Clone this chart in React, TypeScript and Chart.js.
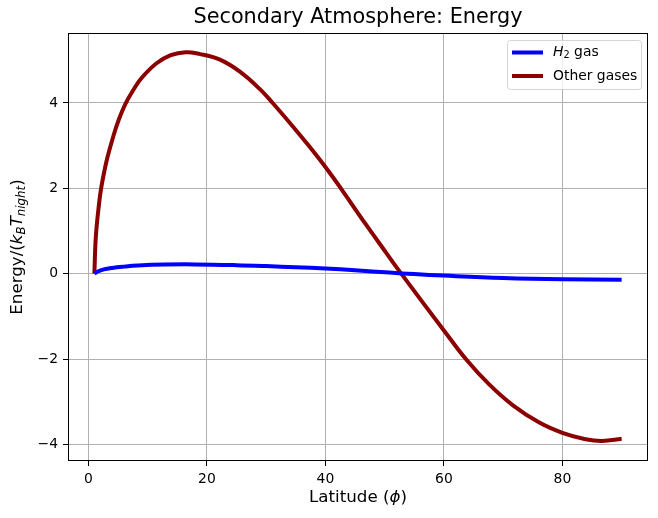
import React, { useEffect, useRef } from 'react';
import { Chart, registerables } from 'chart.js';

Chart.register(...registerables);

// values
const otherLatitude = [1, 1.25, 1.8, 2.14, 2.7, 3.2, 4.2, 5.1, 6.2, 7.6, 9, 11.5, 13.9, 16.4, 18.7, 22.1, 25.5, 28.9, 31.1, 34.5, 37.3, 40, 42.6, 46.8, 50.2, 52.8, 60, 63.7, 67.6, 71.6, 76.1, 80, 83.9, 86.7, 90];
const otherEnergy = [0, 0.87, 1.65, 2.0, 2.41, 2.72, 3.22, 3.6, 3.97, 4.31, 4.59, 4.93, 5.12, 5.19, 5.15, 5.02, 4.74, 4.33, 4.0, 3.45, 2.98, 2.5, 2.0, 1.16, 0.5, 0, -1.33, -2.0, -2.59, -3.08, -3.49, -3.73, -3.88, -3.92, -3.87];

const h2Latitude = [1, 1.5, 2.6, 4, 6, 8.3, 12.8, 18, 25, 30, 35, 40, 45, 50.8, 55, 60, 70, 80, 90];
const h2Energy = [0, 0.045, 0.1, 0.135, 0.165, 0.19, 0.213, 0.217, 0.2, 0.178, 0.15, 0.12, 0.08, 0.025, -0.01, -0.045, -0.1, -0.13, -0.14];

const latitudeTicks = [0, 20, 40, 60, 80];
const energyTicks = [-4, -2, 0, 2, 4];

const FONT = '"DejaVu Sans", sans-serif';

type Seg = { text: string; size: number; italic?: boolean; dy?: number };

const titleSegs: Seg[] = [{ text: 'Secondary Atmosphere: Energy', size: 20.8 }];
const xLabelSegs: Seg[] = [
  { text: 'Latitude (', size: 16.7 },
  { text: 'ϕ', size: 16.7, italic: true },
  { text: ')', size: 16.7 },
];
const yLabelSegs: Seg[] = [
  { text: 'Energy/(', size: 16.7 },
  { text: 'k', size: 16.7, italic: true },
  { text: 'B', size: 11.8, italic: true, dy: 3.6 },
  { text: 'T', size: 16.7, italic: true },
  { text: 'night', size: 11.8, italic: true, dy: 3.6 },
  { text: ')', size: 16.7 },
];
const legendSegs: Seg[][] = [
  [
    { text: 'H', size: 13.9, italic: true },
    { text: '2', size: 9.8, dy: 3 },
    { text: ' gas', size: 13.9 },
  ],
  [{ text: 'Other gases', size: 13.9 }],
];

function segFont(s: Seg) {
  return `${s.italic ? 'italic ' : ''}${s.size}px ${FONT}`;
}

function drawSegs(ctx: CanvasRenderingContext2D, segs: Seg[], x: number, y: number, center: boolean) {
  let width = 0;
  segs.forEach((s) => {
    ctx.font = segFont(s);
    width += ctx.measureText(s.text).width;
  });
  let cx = center ? x - width / 2 : x;
  ctx.textAlign = 'left';
  ctx.textBaseline = 'middle';
  ctx.fillStyle = '#000';
  segs.forEach((s) => {
    ctx.font = segFont(s);
    ctx.fillText(s.text, cx, y + (s.dy || 0));
    cx += ctx.measureText(s.text).width;
  });
}

const decorations = {
  id: 'decorations',
  afterDraw(chart: Chart) {
    const { ctx, chartArea } = chart;
    const midX = (chartArea.left + chartArea.right) / 2;
    const midY = (chartArea.top + chartArea.bottom) / 2;
    ctx.save();

    // frame (all four spines)
    ctx.strokeStyle = '#000';
    ctx.lineWidth = 1;
    ctx.strokeRect(
      Math.round(chartArea.left) + 0.5,
      Math.round(chartArea.top) + 0.5,
      Math.round(chartArea.right - chartArea.left) - 1,
      Math.round(chartArea.bottom - chartArea.top) - 1
    );

    drawSegs(ctx, titleSegs, midX, 18, true);
    drawSegs(ctx, xLabelSegs, midX, 498, true);

    ctx.save();
    ctx.translate(18, midY);
    ctx.rotate(-Math.PI / 2);
    drawSegs(ctx, yLabelSegs, 0, 0, true);
    ctx.restore();

    // legend
    const bx = 507.5, by = 40.5, bw = 134, bh = 49;
    ctx.beginPath();
    ctx.roundRect(bx, by, bw, bh, 3);
    ctx.fillStyle = 'rgba(255,255,255,0.8)';
    ctx.fill();
    ctx.strokeStyle = 'rgba(204,204,204,0.8)';
    ctx.stroke();
    chart.data.datasets.forEach((ds, i) => {
      const ly = 52.5 + i * 23.5;
      ctx.beginPath();
      ctx.moveTo(512, ly);
      ctx.lineTo(543, ly);
      ctx.strokeStyle = ds.borderColor as string;
      ctx.lineWidth = 4;
      ctx.stroke();
      drawSegs(ctx, legendSegs[i], 553, ly, false);
    });

    ctx.restore();
  },
};

function toPoints(xs: number[], ys: number[]) {
  return xs.map((x, i) => ({ x, y: ys[i] }));
}

export default function App() {
  const canvasRef = useRef<HTMLCanvasElement>(null);
  const chartRef = useRef<Chart | null>(null);

  useEffect(() => {
    document.body.style.margin = '0';
    if (!canvasRef.current) return;
    if (chartRef.current) chartRef.current.destroy();

    chartRef.current = new Chart(canvasRef.current, {
      type: 'line',
      data: {
        datasets: [
          {
            label: 'H2 gas',
            data: toPoints(h2Latitude, h2Energy),
            borderColor: '#0000ff',
            borderWidth: 4,
            pointRadius: 0,
            tension: 0.4,
          },
          {
            label: 'Other gases',
            data: toPoints(otherLatitude, otherEnergy),
            borderColor: '#8b0000',
            borderWidth: 4,
            pointRadius: 0,
            tension: 0.4,
          },
        ],
      },
      options: {
        animation: false,
        responsive: true,
        maintainAspectRatio: false,
        layout: { padding: { top: 33, right: 10, left: 0, bottom: 0 } },
        plugins: {
          legend: { display: false },
          title: { display: false },
          tooltip: { enabled: false },
        },
        scales: {
          x: {
            type: 'linear',
            min: -3.45,
            max: 94.45,
            afterBuildTicks: (s) => {
              s.ticks = latitudeTicks.map((value) => ({ value }));
            },
            afterFit: (s) => {
              s.height = 57;
            },
            ticks: { color: '#000', font: { family: FONT, size: 13.9 }, padding: 5 },
            grid: { color: '#b0b0b0', lineWidth: 1, tickColor: '#000', tickLength: 5 },
            border: { display: false },
          },
          y: {
            type: 'linear',
            min: -4.39,
            max: 5.64,
            afterBuildTicks: (s) => {
              s.ticks = energyTicks.map((value) => ({ value }));
            },
            afterFit: (s) => {
              s.width = 68;
            },
            ticks: {
              color: '#000',
              font: { family: FONT, size: 13.9 },
              padding: 5,
              callback: (v) => String(v).replace('-', '\u2212'),
            },
            grid: { color: '#b0b0b0', lineWidth: 1, tickColor: '#000', tickLength: 5 },
            border: { display: false },
          },
        },
      },
      plugins: [decorations],
    });

    return () => {
      if (chartRef.current) {
        chartRef.current.destroy();
        chartRef.current = null;
      }
    };
  }, []);

  return (
    <div style={{ position: 'relative', width: 658, height: 518, background: '#fff' }}>
      <canvas ref={canvasRef}></canvas>
    </div>
  );
}
